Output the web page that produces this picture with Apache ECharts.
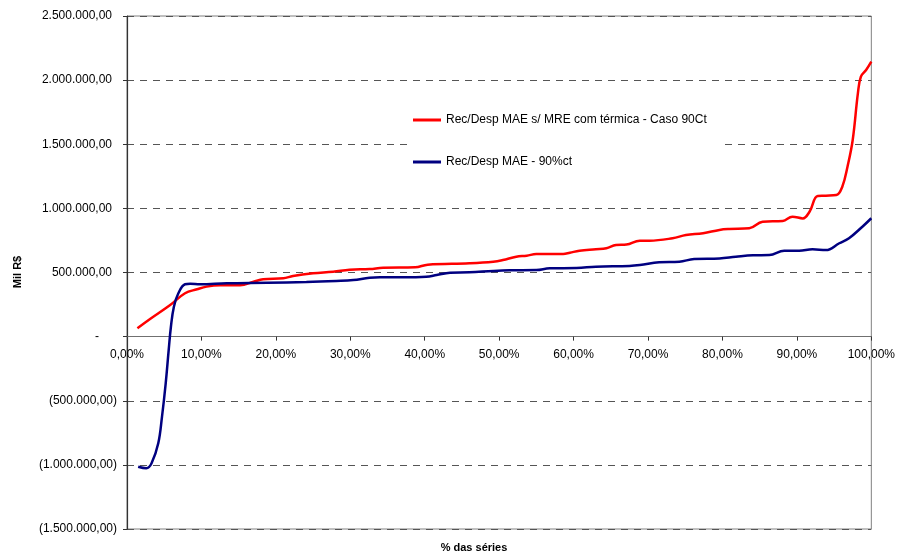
<!DOCTYPE html>
<html>
<head>
<meta charset="utf-8">
<script src="https://cdn.jsdelivr.net/npm/echarts@6/dist/echarts.min.js"></script>
<style>
  html, body { margin: 0; padding: 0; background: #fff; }
  #myCharts { width: 898px; height: 558px; }
</style>
</head>
<body>
<div id="myCharts"></div>
<script>
// % das séries (x) and Mil R$ values
let redPct = [1.4, 3.1, 5.8, 7.8, 9.4, 10.7, 12.5, 15.2, 17.0, 18.3, 21.0, 22.3, 25.0, 27.7, 29.9, 32.6, 34.4, 38.7, 40.4, 46.0, 49.2, 50.5, 52.3, 53.7, 55.0, 58.6, 59.5, 60.8, 63.0, 64.4, 65.7, 67.1, 68.9, 70.2, 73.3, 75.1, 77.4, 79.6, 80.9, 83.6, 85.4, 88.1, 89.4, 90.8, 91.7, 92.8, 93.9, 95.3, 96.1, 96.8, 97.5, 98.2, 98.6, 99.3, 100];
let redVal = [65000, 137000, 246000, 338000, 369000, 390000, 400000, 400000, 428000, 447000, 455000, 473000, 494000, 506000, 522000, 527000, 537000, 540000, 561000, 572000, 584000, 597000, 623000, 631000, 644000, 644000, 654000, 670000, 681000, 689000, 714000, 718000, 748000, 748000, 767000, 792000, 806000, 832000, 839000, 845000, 896000, 902000, 935000, 922000, 974000, 1097000, 1099000, 1104000, 1169000, 1325000, 1533000, 1898000, 2027000, 2079000, 2144000];

let bluePct = [1.5, 2.6, 3.3, 4.2, 4.7, 5.2, 5.6, 5.9, 6.3, 6.9, 7.8, 8.5, 9.8, 13.4, 18.8, 24.1, 28.1, 30.4, 32.6, 34.0, 37.1, 40.2, 41.6, 43.4, 46.0, 49.2, 51.4, 55.0, 56.8, 60.4, 63.0, 67.5, 68.9, 71.5, 74.2, 76.2, 79.6, 81.8, 84.1, 86.3, 88.3, 90.3, 92.1, 93.9, 95.7, 97.0, 98.8, 100];
let blueVal = [-1015000, -1027000, -988000, -832000, -625000, -364000, -105000, 77000, 233000, 338000, 408000, 412000, 408000, 416000, 420000, 426000, 434000, 441000, 459000, 462000, 462000, 467000, 480000, 498000, 501000, 512000, 517000, 519000, 533000, 535000, 545000, 551000, 558000, 579000, 584000, 605000, 610000, 623000, 634000, 636000, 670000, 670000, 681000, 675000, 728000, 767000, 857000, 923000];

let seriesNames = ["Rec/Desp MAE s/ MRE com térmica - Caso 90Ct", "Rec/Desp MAE - 90%ct"];

function zip(xs, ys) {
  return xs.map((x, i) => [x, ys[i]]);
}

function fmtMoney(v) {
  let s = Math.abs(v).toFixed(2).split(".");
  let int = s[0].replace(/\B(?=(\d{3})+(?!\d))/g, ".");
  return int + "," + s[1];
}

const font = "Liberation Sans, Arial, sans-serif";

let option = {
  animation: false,
  backgroundColor: "#fff",
  textStyle: { fontFamily: font },
  grid: {
    left: 127,
    right: 26,
    top: 16,
    bottom: 29,
    show: true,
    borderColor: "#808080",
    borderWidth: 1,
  },
  legend: {
    orient: "vertical",
    left: 408,
    top: 106,
    padding: [8, 18, 10, 5],
    itemGap: 30,
    itemWidth: 28,
    itemHeight: 3,
    icon: "rect",
    backgroundColor: "#fff",
    textStyle: { fontFamily: font, fontSize: 12, color: "#000" },
    data: seriesNames,
  },
  xAxis: {
    type: "value",
    min: 0,
    max: 100,
    interval: 10,
    axisLine: { onZero: true, lineStyle: { color: "#707070", width: 1 } },
    axisTick: { show: true, length: 4, lineStyle: { color: "#333" } },
    axisLabel: {
      // labels sit under the zero line, as in the original
      margin: -180,
      fontSize: 12,
      color: "#000",
      fontFamily: font,
      formatter: (v) => v.toFixed(2).replace(".", ",") + "%",
    },
    splitLine: { show: false },
  },
  yAxis: {
    type: "value",
    min: -1500000,
    max: 2500000,
    interval: 500000,
    axisLine: { show: true, onZero: false, lineStyle: { color: "#333", width: 1.2 } },
    axisTick: { show: true, length: 4, lineStyle: { color: "#333" } },
    axisLabel: {
      margin: 10,
      fontSize: 12,
      color: "#000",
      fontFamily: font,
      formatter: function (v) {
        if (v === 0) return "{z|-}";
        if (v < 0) return "(" + fmtMoney(v) + ")";
        return "{p|" + fmtMoney(v) + "}";
      },
      rich: {
        p: { fontSize: 12, fontFamily: font, color: "#000", padding: [0, 5, 0, 0] },
        z: { fontSize: 12, fontFamily: font, color: "#000", padding: [0, 18, 0, 0] },
      },
    },
    splitLine: {
      show: true,
      lineStyle: { color: "#555", type: [7, 6], width: 1 },
    },
  },
  graphic: [
    {
      type: "text",
      x: 18,
      y: 272,
      rotation: Math.PI / 2,
      style: {
        text: "Mil R$",
        font: "bold 11px " + font,
        fill: "#000",
        align: "center",
        verticalAlign: "middle",
      },
    },
    {
      type: "text",
      x: 474,
      y: 548,
      style: {
        text: "% das séries",
        font: "bold 11px " + font,
        fill: "#000",
        align: "center",
        verticalAlign: "middle",
      },
    },
  ],
  series: [
    {
      name: seriesNames[0],
      type: "line",
      symbol: "none",
      smooth: 0.4,
      lineStyle: { color: "#ff0000", width: 2.5 },
      itemStyle: { color: "#ff0000" },
      data: zip(redPct, redVal),
    },
    {
      name: seriesNames[1],
      type: "line",
      symbol: "none",
      smooth: 0.4,
      lineStyle: { color: "#000080", width: 2.5 },
      itemStyle: { color: "#000080" },
      data: zip(bluePct, blueVal),
    },
  ],
};

let myChart = echarts.init(document.getElementById("myCharts"));
myChart.setOption(option);
</script>
</body>
</html>
